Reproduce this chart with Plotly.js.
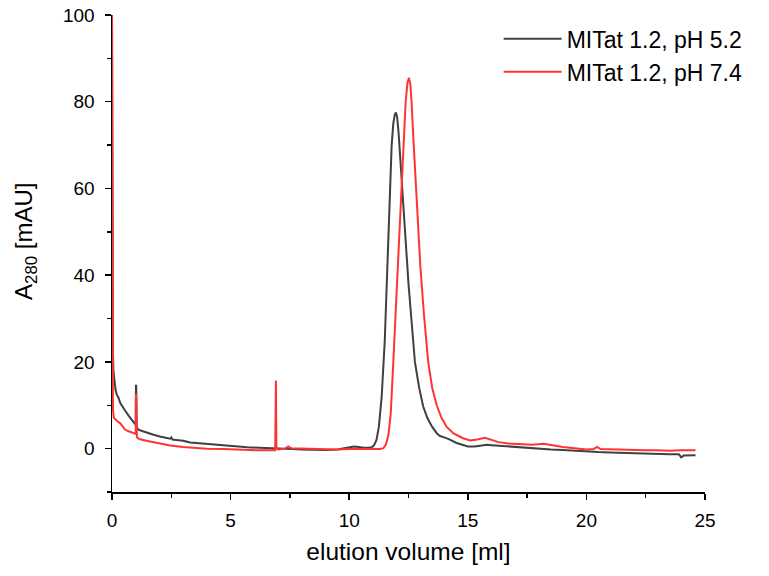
<!DOCTYPE html>
<html>
<head>
<meta charset="utf-8">
<script src="https://cdn.plot.ly/plotly-3.0.1.min.js"></script>
<style>html,body{margin:0;padding:0;background:#fff;}</style>
</head>
<body>
<div id="chart" style="width:769px;height:576px;"></div>
<script>
const seriesNames = ["MITat 1.2, pH 5.2", "MITat 1.2, pH 7.4"];
const seriesColors = ["#404040", "#ff3333"];

const volPH52 = [0, 0.01, 0.02, 0.04, 0.06, 0.1, 0.15, 0.2, 0.27, 0.35, 0.45, 0.55, 0.7, 0.85, 0.97, 1.0, 1.01, 1.02, 1.04, 1.11, 1.3, 1.5, 1.75, 2.02, 2.3, 2.45, 2.5, 2.55, 2.7, 3.0, 3.3, 3.7, 4.2, 4.7, 5.2, 5.7, 6.2, 6.8, 7.2, 7.6, 8.0, 8.5, 9.0, 9.5, 9.8, 10.0, 10.2, 10.4, 10.6, 10.8, 10.95, 11.05, 11.15, 11.25, 11.37, 11.5, 11.62, 11.72, 11.79, 11.86, 11.92, 11.97, 12.02, 12.08, 12.14, 12.22, 12.35, 12.5, 12.65, 12.77, 12.95, 13.12, 13.3, 13.5, 13.7, 13.83, 14.0, 14.2, 14.53, 14.8, 15.0, 15.3, 15.6, 15.8, 16.0, 16.5, 17.0, 17.5, 18.0, 18.5, 19.0, 19.5, 20.0, 20.5, 21.0, 21.5, 22.0, 22.5, 23.0, 23.5, 23.9, 24.0, 24.1, 24.3, 24.6];
const absPH52 = [100, 60, 30, 22, 18, 15, 13.5, 12.5, 11.8, 10.5, 9.5, 8.8, 7.6, 6.5, 5.6, 5.5, 14.5, 14.5, 4.9, 4.4, 4.0, 3.6, 3.2, 2.8, 2.5, 2.3, 2.6, 2.1, 2.0, 1.8, 1.4, 1.2, 1.0, 0.7, 0.5, 0.3, 0.2, 0.0, 0.0, -0.1, -0.2, -0.3, -0.3, -0.2, 0.1, 0.4, 0.5, 0.4, 0.2, 0.2, 0.3, 0.8, 2, 5, 12, 25, 45, 60, 70, 75, 77, 77.5, 76.5, 73, 68, 62, 50, 38, 28, 20, 14, 9.7, 7, 5, 3.5, 2.9, 2.6, 2.2, 1.3, 0.8, 0.5, 0.5, 0.8, 0.9, 0.8, 0.6, 0.3, 0.1, 0.0, -0.2, -0.3, -0.5, -0.6, -0.8, -0.9, -1.0, -1.0, -1.1, -1.2, -1.3, -1.3, -2.0, -1.6, -1.6, -1.5];

const volPH74 = [0, 0.01, 0.02, 0.04, 0.08, 0.15, 0.25, 0.34, 0.45, 0.55, 0.7, 0.85, 0.97, 1.0, 1.01, 1.02, 1.05, 1.15, 1.4, 1.7, 2.02, 2.45, 3.0, 3.5, 4.0, 4.7, 5.5, 6.2, 6.88, 6.9, 6.91, 6.93, 7.0, 7.3, 7.43, 7.55, 8.0, 8.5, 9.0, 9.5, 10.0, 10.5, 11.0, 11.3, 11.44, 11.55, 11.65, 11.75, 11.86, 11.95, 12.05, 12.14, 12.25, 12.38, 12.46, 12.52, 12.58, 12.63, 12.72, 12.82, 12.91, 13.0, 13.15, 13.33, 13.5, 13.69, 13.9, 14.11, 14.4, 14.8, 15.1, 15.4, 15.72, 16.0, 16.3, 16.7, 17.2, 17.7, 18.2, 18.5, 19.0, 19.5, 20.0, 20.3, 20.45, 20.6, 21.0, 21.5, 22.0, 22.5, 23.0, 23.5, 24.0, 24.6];
const absPH74 = [100, 40, 15, 9, 7.1, 6.7, 6.2, 5.9, 5.2, 4.4, 4.0, 3.7, 3.5, 3.4, 12.4, 12.4, 2.6, 2.2, 1.9, 1.6, 1.3, 0.7, 0.4, 0.2, 0.0, -0.1, -0.3, -0.4, -0.4, 15.7, 15.7, 0.2, -0.2, 0.0, 0.5, 0.1, 0.0, -0.1, -0.1, -0.2, -0.1, -0.1, -0.1, -0.1, 0.1, 1.0, 3, 8, 20, 30, 41, 50, 65, 80, 84.5, 85.5, 84, 80, 70, 60, 50, 42, 31, 20, 14, 10, 7, 5, 3.5, 2.4, 1.9, 2.1, 2.5, 2.0, 1.5, 1.2, 1.0, 0.9, 1.1, 0.8, 0.4, 0.1, -0.2, -0.1, 0.4, -0.1, -0.2, -0.3, -0.3, -0.4, -0.4, -0.5, -0.4, -0.4];

const xTickVals = [0, 5, 10, 15, 20, 25];
const yTickVals = [0, 20, 40, 60, 80, 100];
const xTitle = "elution volume [ml]";
const yTitle = "A<sub>280</sub> [mAU]";

const FONT = "Liberation Sans, Arial, sans-serif";

const traces = [
  {x: volPH52, y: absPH52, name: seriesNames[0], type: "scatter", mode: "lines",
   line: {color: seriesColors[0], width: 2}},
  {x: volPH74, y: absPH74, name: seriesNames[1], type: "scatter", mode: "lines",
   line: {color: seriesColors[1], width: 2}}
];

const axisCommon = {
  showgrid: false, zeroline: false, showline: true, linecolor: "#000", linewidth: 1.5,
  ticks: "outside", ticklen: 6, tickwidth: 1.5, tickcolor: "#000",
  tickfont: {family: FONT, size: 19, color: "#000"}, mirror: false
};

const layout = {
  width: 769, height: 576,
  margin: {l: 112, r: 64, t: 15, b: 84},
  paper_bgcolor: "#fff", plot_bgcolor: "#fff",
  font: {family: FONT, color: "#000"},
  showlegend: true,
  legend: {x: 0.652, y: 0.995, xanchor: "left", yanchor: "top", bgcolor: "rgba(0,0,0,0)",
           font: {family: FONT, size: 23, color: "#000"}, itemwidth: 58, tracegroupgap: 0},
  xaxis: Object.assign({}, axisCommon, {
    range: [0, 25], tickvals: xTickVals, ticklabelstandoff: 5,
    minor: {ticks: "outside", ticklen: 4, tickwidth: 1.5, tickcolor: "#000", dtick: 2.5},
    title: {text: xTitle, font: {family: FONT, size: 24.5, color: "#000"}, standoff: 12}
  }),
  yaxis: Object.assign({}, axisCommon, {
    range: [-10, 100], tickvals: yTickVals, ticklabelstandoff: 6,
    minor: {ticks: "outside", ticklen: 4, tickwidth: 1.5, tickcolor: "#000", dtick: 10}
  }),
  annotations: [
    {text: yTitle, xref: "paper", yref: "paper", x: -0.147, y: 0.526,
     xanchor: "center", yanchor: "middle", textangle: -90, showarrow: false,
     font: {family: FONT, size: 24, color: "#000"}}
  ]
};

Plotly.newPlot("chart", traces, layout, {displayModeBar: false, staticPlot: true});
</script>
</body>
</html>
